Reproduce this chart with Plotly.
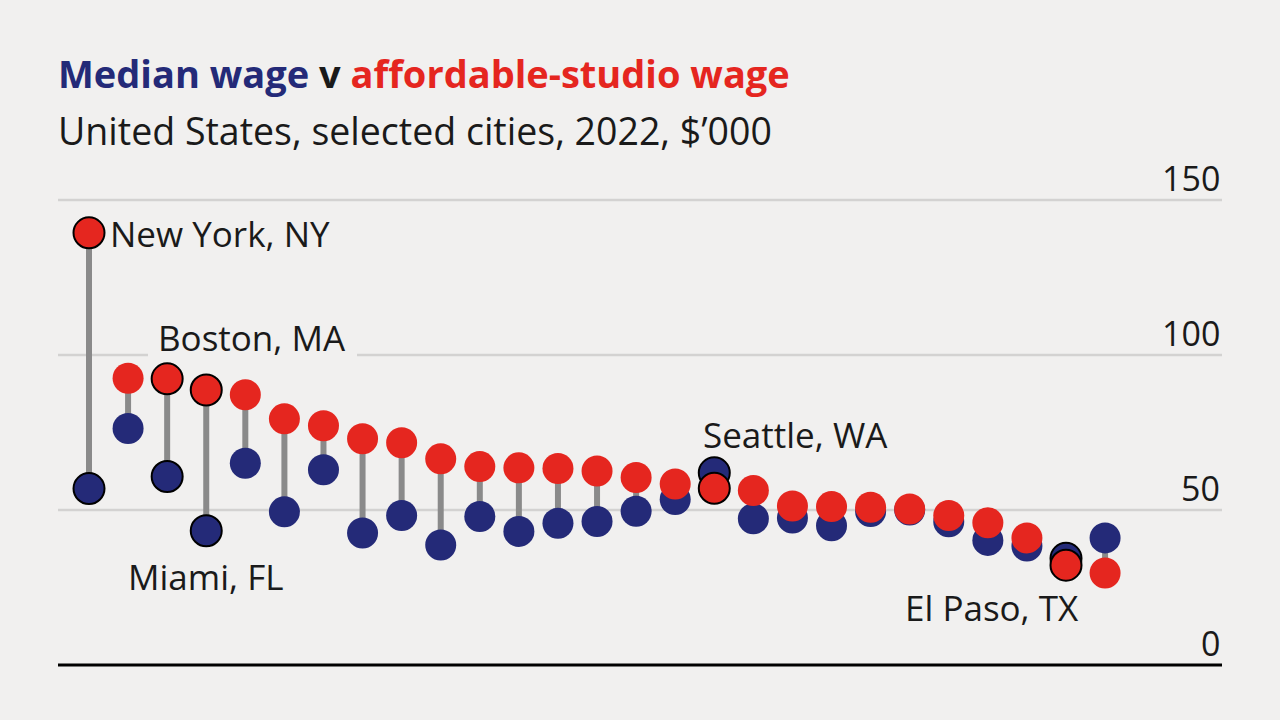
import plotly.graph_objects as go

# ---- data (values in $'000) ----
cities = ["New York, NY", "City 2", "Boston, MA", "Miami, FL", "City 5", "City 6",
          "City 7", "City 8", "City 9", "City 10", "City 11", "City 12", "City 13",
          "City 14", "City 15", "City 16", "Seattle, WA", "City 18", "City 19",
          "City 20", "City 21", "City 22", "City 23", "City 24", "City 25",
          "El Paso, TX", "City 27"]
median_wage = [56.9, 76.3, 60.8, 43.3, 65.1, 49.4, 63.0, 42.6, 48.2, 38.7, 47.9,
               43.1, 45.7, 46.3, 49.6, 53.4, 62.0, 47.2, 47.4, 44.9, 49.5, 50.0,
               46.2, 40.2, 38.4, 34.4, 41.0]
studio_wage = [139.4, 92.5, 92.3, 88.7, 87.2, 79.4, 77.2, 73.0, 71.7, 66.5, 64.0,
               63.6, 63.4, 62.6, 60.5, 58.4, 57.0, 56.3, 51.3, 51.1, 50.9, 50.3,
               48.2, 45.9, 41.0, 32.2, 29.7]
highlight = ["New York, NY", "Boston, MA", "Miami, FL", "Seattle, WA", "El Paso, TX"]
y_ticks = [0, 50, 100, 150]

NAVY = "#242a78"
RED = "#e5261f"
BG = "#f1f0ef"
GREY = "#8a8a8a"
GRID = "#d3d2d1"
INK = "#1a1a1a"
FONT = "Open Sans"

x = list(range(len(cities)))
lw = [2 if c in highlight else 0 for c in cities]

cx, cy = [], []
for i in x:
    cx += [i, i, None]
    cy += [median_wage[i], studio_wage[i], None]

fig = go.Figure()
fig.add_trace(go.Scatter(x=cx, y=cy, mode="lines", line=dict(color=GREY, width=6),
                         hoverinfo="skip", showlegend=False))
fig.add_trace(go.Scatter(x=x, y=median_wage, mode="markers", name="Median wage",
                         text=cities, showlegend=False,
                         marker=dict(size=31, color=NAVY,
                                     line=dict(color="black", width=lw))))
fig.add_trace(go.Scatter(x=x, y=studio_wage, mode="markers", name="Affordable-studio wage",
                         text=cities, showlegend=False,
                         marker=dict(size=31, color=RED,
                                     line=dict(color="black", width=lw))))

# layout geometry (pixels): plot area 58..1222 horizontally, 150..690 vertically
s = 39.08
xmin = -(89 - 58) / s
xmax = xmin + 1164 / s
ppu = 3.1
ymin = -(690 - 665) / ppu
ymax = (665 - 150) / ppu


def px_to_x(px):
    return xmin + (px - 58) / s


# gridlines (the 100 line is broken around the Boston label)
for t in y_ticks:
    if t == 0:
        continue
    if t == 100:
        for a, b in [(58, 148), (357, 1222)]:
            fig.add_shape(type="line", xref="x", yref="y", x0=px_to_x(a), x1=px_to_x(b),
                          y0=t, y1=t, line=dict(color=GRID, width=2.5), layer="below")
    else:
        fig.add_shape(type="line", xref="paper", yref="y", x0=0, x1=1, y0=t, y1=t,
                      line=dict(color=GRID, width=2.5), layer="below")
fig.add_shape(type="line", xref="paper", yref="y", x0=0, x1=1, y0=0, y1=0,
              line=dict(color="black", width=3), layer="above")

# tick labels
for t in y_ticks:
    fig.add_annotation(xref="paper", yref="y", x=1, y=t, text=str(t), showarrow=False,
                       xanchor="right", yanchor="bottom", yshift=-3,
                       font=dict(family=FONT, size=34, color=INK))


def add_label(name, x_px, y_px, xanchor="left"):
    fig.add_annotation(x=px_to_x(x_px), y=(665 - y_px) / ppu, text=name, showarrow=False,
                       xanchor=xanchor, yanchor="middle",
                       font=dict(family=FONT, size=35, color=INK))


add_label("New York, NY", 108, 233)
add_label("Boston, MA", 156, 337)
add_label("Miami, FL", 126, 576)
add_label("Seattle, WA", 701, 434)
add_label("El Paso, TX", 903, 607)

# title & subtitle
fig.add_annotation(xref="paper", yref="paper", x=(56 - 58) / 1164, y=(690 - 73) / 540,
                   xanchor="left", yanchor="middle", showarrow=False,
                   text=(f"<b><span style='color:{NAVY}'>Median wage</span> "
                         f"<span style='color:{INK}'>v</span> "
                         f"<span style='color:{RED}'>affordable-studio wage</span></b>"),
                   font=dict(family=FONT, size=38))
fig.add_annotation(xref="paper", yref="paper", x=(56 - 58) / 1164, y=(690 - 130) / 540,
                   xanchor="left", yanchor="middle", showarrow=False,
                   text="United States, selected cities, 2022, $’000",
                   font=dict(family=FONT, size=37.5, color=INK))

fig.update_layout(
    width=1280, height=720,
    margin=dict(l=58, r=58, t=150, b=30),
    paper_bgcolor=BG, plot_bgcolor=BG,
    xaxis=dict(range=[xmin, xmax], visible=False, fixedrange=True),
    yaxis=dict(range=[ymin, ymax], visible=False, fixedrange=True),
    showlegend=False,
)

fig.write_html("out.html")
